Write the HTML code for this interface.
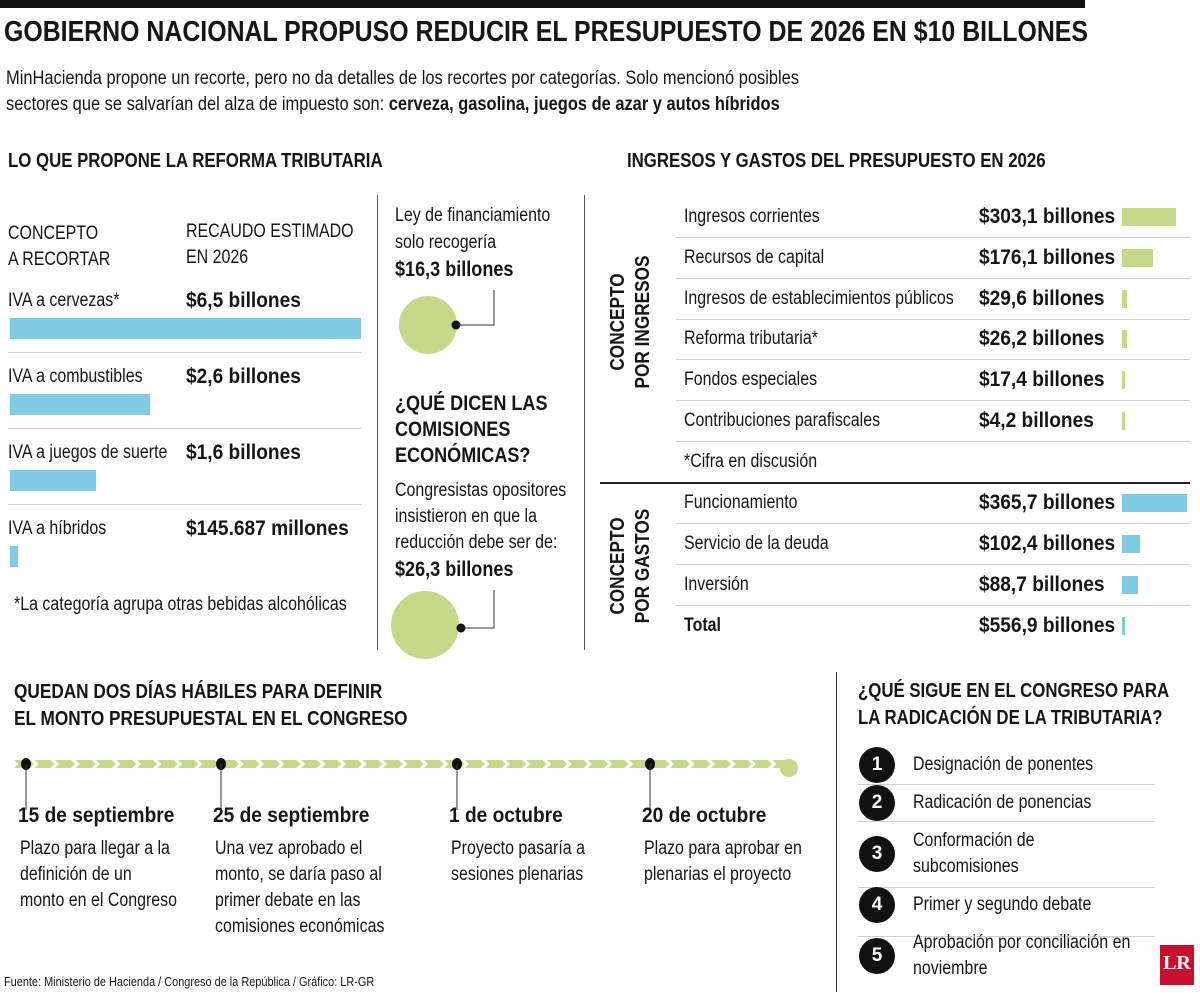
<!DOCTYPE html>
<html><head><meta charset="utf-8">
<style>
body{margin:0;width:1200px;height:993px;background:#fff;position:relative;overflow:hidden;font-family:"Liberation Sans",sans-serif;color:#161616}
.a{position:absolute;white-space:nowrap}
.c{transform:scaleX(0.84);transform-origin:0 0}
.b{font-weight:bold}
.h{font-weight:bold;font-size:20px}
.t{font-size:19px}
.v{font-weight:bold;font-size:21.5px}
.v.c{transform:scaleX(0.89)}
.hl{position:absolute;height:1px;background:#cfcfcf}
.vl{position:absolute;width:1px;background:#555}
.num{position:absolute;width:36px;height:36px;border-radius:50%;background:#111;color:#fff;font-weight:bold;font-size:19px;text-align:center;line-height:36px;font-family:"Liberation Sans",sans-serif}
</style></head><body>
<div class="a" style="left:0;top:0;width:1085px;height:8px;background:#111"></div>
<div class="a b" style="left:4px;top:16px;font-size:29px;transform:scaleX(0.858);transform-origin:0 0">GOBIERNO NACIONAL PROPUSO REDUCIR EL PRESUPUESTO DE 2026 EN $10 BILLONES</div>
<div class="a t c" style="left:6px;top:66px;line-height:26px;font-size:19px;transform:scaleX(0.865)">MinHacienda propone un recorte, pero no da detalles de los recortes por categorías. Solo mencionó posibles<br>sectores que se salvarían del alza de impuesto son: <b>cerveza, gasolina, juegos de azar y autos híbridos</b></div>

<div class="a h c" style="left:8px;top:150px">LO QUE PROPONE LA REFORMA TRIBUTARIA</div>
<div class="a h c" style="left:627px;top:150px">INGRESOS Y GASTOS DEL PRESUPUESTO EN 2026</div>
<div class="a t c" style="left:8px;top:221px;line-height:26px">CONCEPTO<br>A RECORTAR</div>
<div class="a t c" style="left:186px;top:219px;line-height:26px">RECAUDO ESTIMADO<br>EN 2026</div>
<div id="left"></div>
<div class="a t c" style="left:14px;top:594px">*La categoría agrupa otras bebidas alcohólicas</div>

<div class="vl" style="left:377px;top:195px;height:455px"></div>
<div class="vl" style="left:584px;top:195px;height:455px"></div>

<div class="a t c" style="left:395px;top:202px;line-height:27px">Ley de financiamiento<br>solo recogería<br><span class="v">$16,3 billones</span></div>
<svg class="a" style="left:380px;top:280px" width="200" height="380">
<circle cx="48" cy="45" r="29" fill="#c5d88a"/><circle cx="76" cy="45" r="4.5" fill="#111"/>
<polyline points="76,45 114,45 114,10" fill="none" stroke="#333" stroke-width="1"/>
<circle cx="45" cy="345" r="34" fill="#c5d88a"/><circle cx="81" cy="348" r="4.5" fill="#111"/>
<polyline points="81,348 114,348 114,310" fill="none" stroke="#333" stroke-width="1"/>
</svg>
<div class="a b c" style="left:395px;top:390px;font-size:21.5px;line-height:26px">¿QUÉ DICEN LAS<br>COMISIONES<br>ECONÓMICAS?</div>
<div class="a t c" style="left:395px;top:478px;line-height:26px">Congresistas opositores<br>insistieron en que la<br>reducción debe ser de:<br><span class="v">$26,3 billones</span></div>

<div class="a b" style="left:630px;top:322px;font-size:20.5px;line-height:25px;text-align:center;transform:translate(-50%,-50%) rotate(-90deg) scaleX(0.84)">CONCEPTO<br>POR INGRESOS</div>
<div class="a b" style="left:630px;top:566px;font-size:20.5px;line-height:25px;text-align:center;transform:translate(-50%,-50%) rotate(-90deg) scaleX(0.84)">CONCEPTO<br>POR GASTOS</div>
<div id="right"></div>
<div class="a" style="left:600px;top:482px;width:590px;height:2px;background:#222"></div>

<div class="a h c" style="left:14px;top:678px;line-height:27px;font-size:20.5px">QUEDAN DOS DÍAS HÁBILES PARA DEFINIR<br>EL MONTO PRESUPUESTAL EN EL CONGRESO</div>
<svg class="a" style="left:0;top:750px" width="820" height="60" id="tl"></svg>
<div id="tlt"></div>

<div class="vl" style="left:836px;top:672px;height:320px;background:#333"></div>
<div class="a h c" style="left:858px;top:678px;line-height:27px">¿QUÉ SIGUE EN EL CONGRESO PARA<br>LA RADICACIÓN DE LA TRIBUTARIA?</div>
<div id="steps"></div>

<div class="a c" style="left:4px;top:974px;font-size:13px">Fuente: Ministerio de Hacienda / Congreso de la República / Gráfico: LR-GR</div>
<div class="a b" style="left:1160px;top:945px;width:34px;height:40px;background:#c8102e;color:#fff;font-family:'Liberation Serif',serif;font-size:20px;text-align:center;line-height:36px">LR</div>

<script>
const leftCats=["IVA a cervezas*","IVA a combustibles","IVA a juegos de suerte","IVA a híbridos"];
const leftVals=[6.5,2.6,1.6,0.145687];
const leftLabels=["$6,5 billones","$2,6 billones","$1,6 billones","$145.687 millones"];
const inCats=["Ingresos corrientes","Recursos de capital","Ingresos de establecimientos públicos","Reforma tributaria*","Fondos especiales","Contribuciones parafiscales"];
const inVals=[303.1,176.1,29.6,26.2,17.4,4.2];
const gaCats=["Funcionamiento","Servicio de la deuda","Inversión","Total"];
const gaVals=[365.7,102.4,88.7,556.9];
const tlDates=["15 de septiembre","25 de septiembre","1 de octubre","20 de octubre"];
const tlText=["Plazo para llegar a la<br>definición de un<br>monto en el Congreso","Una vez aprobado el<br>monto, se daría paso al<br>primer debate en las<br>comisiones económicas","Proyecto pasaría a<br>sesiones plenarias","Plazo para aprobar en<br>plenarias el proyecto"];
const steps=["Designación de ponentes","Radicación de ponencias","Conformación de<br>subcomisiones","Primer y segundo debate","Aprobación por conciliación en<br>noviembre"];

function fmt(v){return "$"+v.toFixed(1).replace(".",",")+" billones";}
const xL=v=>Math.max(8,v*351/6.5);
const xR=v=>Math.max(3,v*65/365.7);

const L=document.getElementById('left');
leftCats.forEach((c,i)=>{
  const y=290+i*76;
  const d=document.createElement('div');d.className='a t c';d.style.left='8px';d.style.top=y+'px';d.textContent=c;
  
  
  L.appendChild(d);
  const v=document.createElement('div');v.className='a v c';v.style.cssText='left:186px;top:'+(y-2)+'px';v.textContent=leftLabels[i];
  
  
  L.appendChild(v);
  const b=document.createElement('div');b.className='a';b.style.cssText='left:10px;top:'+(y+28)+'px;height:21px;background:#7ecbe3;width:'+xL(leftVals[i])+'px';
  
  
  L.appendChild(b);
  if(i<3){const h=document.createElement('div');h.className='hl';h.style.cssText='left:8px;width:353px;top:'+(y+62)+'px';
  
  
  L.appendChild(h);}
});

const R=document.getElementById('right');
function rrow(c,val,y,color,last,bold,total){
  const d=document.createElement('div');d.className='a t c'+(bold?' b':'');d.style.cssText='left:684px;top:'+y+'px';d.textContent=c;
  
  
  R.appendChild(d);
  if(val!=null){
    const v=document.createElement('div');v.className='a v c';v.style.cssText='left:979px;top:'+(y-2)+'px';v.textContent=fmt(val);
    
    
    R.appendChild(v);
    const b=document.createElement('div');b.className='a';b.style.cssText='left:1122px;top:'+(y+2)+'px;height:18px;background:'+color+';width:'+(total?3:xR(val))+'px';
    
    
    R.appendChild(b);
  }
  if(!last){const h=document.createElement('div');h.className='hl';h.style.cssText='left:676px;width:514px;top:'+(y+31)+'px';
    
    
    R.appendChild(h);}
}
inCats.forEach((c,i)=>rrow(c,inVals[i],206+i*40.8,'#c5d88a',false,false,false));
rrow("*Cifra en discusión",null,451,null,true,false,false);
gaCats.forEach((c,i)=>rrow(c,gaVals[i],492+i*41,'#7ecbe3',i==3,i==3,i==3));

const tl=document.getElementById('tl');const NS='http://www.w3.org/2000/svg';
let s='';
for(let x=14;x<776;x+=20.5){s+=`<polygon points="${x},10 ${x+16},10 ${x+20},14 ${x+16},18 ${x},18 ${x+4},14" fill="#c5d88a"/>`;}
s+='<ellipse cx="789" cy="18" rx="9" ry="9" fill="#c5d88a"/>';
tl.innerHTML=s;
const tlX=[26,221,457,650];
const T=document.getElementById('tlt');
tlDates.forEach((dt,i)=>{
  const c=document.createElementNS(NS,'ellipse');c.setAttribute('cx',tlX[i]);c.setAttribute('cy',14);c.setAttribute('rx',5);c.setAttribute('ry',6);c.setAttribute('fill','#111');
  
  
  tl.appendChild(c);
  const l=document.createElementNS(NS,'line');l.setAttribute('x1',tlX[i]);l.setAttribute('x2',tlX[i]);l.setAttribute('y1',14);l.setAttribute('y2',60);l.setAttribute('stroke','#333');
  tl.appendChild(l);
  const x=tlX[i]-8;
  const d=document.createElement('div');d.className='a v c';d.style.cssText='left:'+x+'px;top:803px';d.textContent=dt;
  
  
  T.appendChild(d);
  const p=document.createElement('div');p.className='a t c';p.style.cssText='left:'+(x+2)+'px;top:836px;line-height:26px';p.innerHTML=tlText[i];
  
  
  T.appendChild(p);
});

const S=document.getElementById('steps');
const sy=[765,803,854,905,956];
steps.forEach((t,i)=>{
  const n=document.createElement('div');n.className='num';n.style.left='859px';n.style.top=(sy[i]-18)+'px';n.textContent=i+1;
  
  
  S.appendChild(n);
  const multi=t.includes('<br>');
  const p=document.createElement('div');p.className='a t c';p.style.cssText='left:913px;line-height:26px;top:'+(sy[i]-(multi?26:13))+'px';p.innerHTML=t;
  
  
  S.appendChild(p);
  if(i<4){const h=document.createElement('div');h.className='hl';const hy=[784,821,887,936][i];h.style.cssText='left:858px;width:297px;top:'+hy+'px';
    
    
    S.appendChild(h);}
});
</script>
</body></html>
